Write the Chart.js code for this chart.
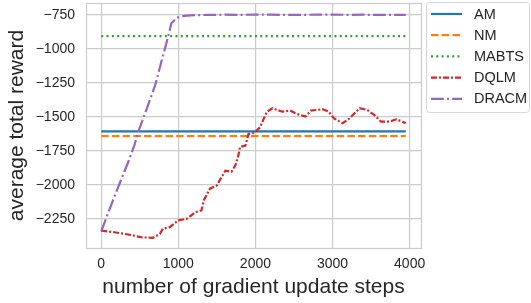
<!DOCTYPE html>
<html>
<head>
<meta charset="utf-8">
<script src="https://cdn.jsdelivr.net/npm/chart.js@4/dist/chart.umd.min.js"></script>
<style>
  html, body { margin: 0; padding: 0; background: #fff; }
  canvas { display: block; }
</style>
</head>
<body>
<canvas id="chart" width="531" height="303"></canvas>
<script>
// values
const xTicks = [0, 1000, 2000, 3000, 4000];
const yTicks = [-2250, -2000, -1750, -1500, -1250, -1000, -750];

const flatSteps = [0, 3950];
const amReward = [-1605, -1605];
const nmReward = [-1640, -1640];
const mabtsReward = [-905, -905];

const dqlmSteps = [0, 170, 350, 520, 670, 760, 800, 890, 1000, 1110, 1220, 1300, 1330, 1410, 1500, 1560, 1610, 1690, 1740, 1780, 1800, 1870, 1910, 1990, 2060, 2110, 2150, 2220, 2350, 2450, 2540, 2650, 2720, 2870, 2950, 3020, 3130, 3220, 3350, 3450, 3540, 3630, 3740, 3830, 3950];
const dqlmReward = [-2335, -2347, -2364, -2384, -2388, -2359, -2322, -2310, -2260, -2248, -2200, -2187, -2113, -2027, -2003, -1942, -1895, -1902, -1855, -1780, -1720, -1710, -1625, -1615, -1575, -1510, -1461, -1436, -1461, -1453, -1478, -1497, -1453, -1443, -1461, -1510, -1546, -1510, -1436, -1448, -1485, -1534, -1534, -1517, -1545];

const dracmSteps = [0, 110, 220, 350, 430, 480, 560, 700, 780, 850, 910, 980, 1080, 1200, 1400, 1600, 1800, 2000, 2200, 2400, 2600, 2800, 3000, 3200, 3400, 3600, 3800, 3950];
const dracmReward = [-2340, -2175, -2015, -1831, -1708, -1610, -1487, -1266, -1094, -947, -811, -770, -757, -751, -750, -748, -749, -747, -748, -750, -749, -748, -747, -749, -748, -750, -749, -749];

const FONT = "'Liberation Sans', Arial, sans-serif";
const TEXT = '#262626';
const GRID = '#cccccc';

function pts(xs, ys) {
  return xs.map((x, i) => ({ x: x, y: ys[i] }));
}
function minus(v) {
  return String(v).replace('-', '\u2212');
}

const series = [
  { label: 'AM', data: pts(flatSteps, amReward), color: '#1f77b4', dash: [] },
  { label: 'NM', data: pts(flatSteps, nmReward), color: '#ff7f0e', dash: [7.5, 3.2] },
  { label: 'MABTS', data: pts(flatSteps, mabtsReward), color: '#2ca02c', dash: [2, 3.3] },
  { label: 'DQLM', data: pts(dqlmSteps, dqlmReward), color: '#d62728', dash: [6, 2, 2, 2] },
  { label: 'DRACM', data: pts(dracmSteps, dracmReward), color: '#9467bd', dash: [12.8, 3.2, 2, 3.2] }
];

const frameAndLegend = {
  id: 'frameAndLegend',
  afterDraw(chart) {
    const ctx = chart.ctx;
    const a = chart.chartArea;
    ctx.save();
    // axes box
    ctx.strokeStyle = GRID;
    ctx.lineWidth = 1.2;
    ctx.strokeRect(Math.round(a.left) + 0.5, Math.round(a.top) + 0.5,
      Math.round(a.right - a.left), Math.round(a.bottom - a.top));

    // legend box
    const bx = 426.5, by = 2.5, bw = 103, bh = 110, r = 3;
    ctx.beginPath();
    ctx.roundRect(bx, by, bw, bh, r);
    ctx.fillStyle = 'rgba(255,255,255,0.8)';
    ctx.fill();
    ctx.strokeStyle = '#d6d6d6';
    ctx.lineWidth = 1;
    ctx.stroke();

    ctx.font = '14.5px ' + FONT;
    ctx.textBaseline = 'middle';
    ctx.fillStyle = TEXT;
    chart.data.datasets.forEach((ds, i) => {
      const y = 14 + i * 21.2;
      ctx.beginPath();
      ctx.setLineDash(ds.borderDash || []);
      ctx.strokeStyle = ds.borderColor;
      ctx.lineWidth = ds.borderWidth;
      ctx.moveTo(431, y);
      ctx.lineTo(462, y);
      ctx.stroke();
      ctx.setLineDash([]);
      ctx.fillText(ds.label, 474, y + 0.5);
    });
    ctx.restore();
  }
};

new Chart(document.getElementById('chart'), {
  type: 'line',
  data: {
    datasets: series.map((s, i) => ({
      label: s.label,
      data: s.data,
      borderColor: s.color,
      backgroundColor: s.color,
      borderDash: s.dash,
      borderWidth: 2.2,
      pointRadius: 0,
      tension: 0,
      fill: false,
      order: series.length - i
    }))
  },
  options: {
    responsive: false,
    animation: false,
    layout: { padding: { top: 3, right: 110, left: 0, bottom: 0 } },
    plugins: {
      legend: { display: false },
      tooltip: { enabled: false }
    },
    scales: {
      x: {
        type: 'linear',
        min: -197.5,
        max: 4147.5,
        afterBuildTicks: s => { s.ticks = xTicks.map(v => ({ value: v })); },
        afterFit: s => { s.height = 55; s.paddingLeft = 0; s.paddingRight = 0; },
        grid: { color: GRID, lineWidth: 1.2, drawTicks: false },
        border: { display: false },
        ticks: {
          padding: 8,
          color: TEXT,
          font: { family: FONT, size: 14 },
          maxRotation: 0,
          callback: v => minus(v)
        },
        title: {
          display: true,
          text: 'number of gradient update steps',
          color: TEXT,
          font: { family: FONT, size: 21 },
          padding: { top: 0, bottom: 3.5 }
        }
      },
      y: {
        type: 'linear',
        min: -2463,
        max: -662,
        afterBuildTicks: s => { s.ticks = yTicks.map(v => ({ value: v })); },
        afterFit: s => { s.width = 86; s.paddingTop = 0; s.paddingBottom = 0; },
        grid: { color: GRID, lineWidth: 1.2, drawTicks: false },
        border: { display: false },
        ticks: {
          padding: 11,
          color: TEXT,
          font: { family: FONT, size: 14 },
          callback: v => minus(v)
        },
        title: {
          display: true,
          text: 'average total reward',
          color: TEXT,
          font: { family: FONT, size: 21 },
          padding: { top: 4.5, bottom: 0 }
        }
      }
    }
  },
  plugins: [frameAndLegend]
});
</script>
</body>
</html>
